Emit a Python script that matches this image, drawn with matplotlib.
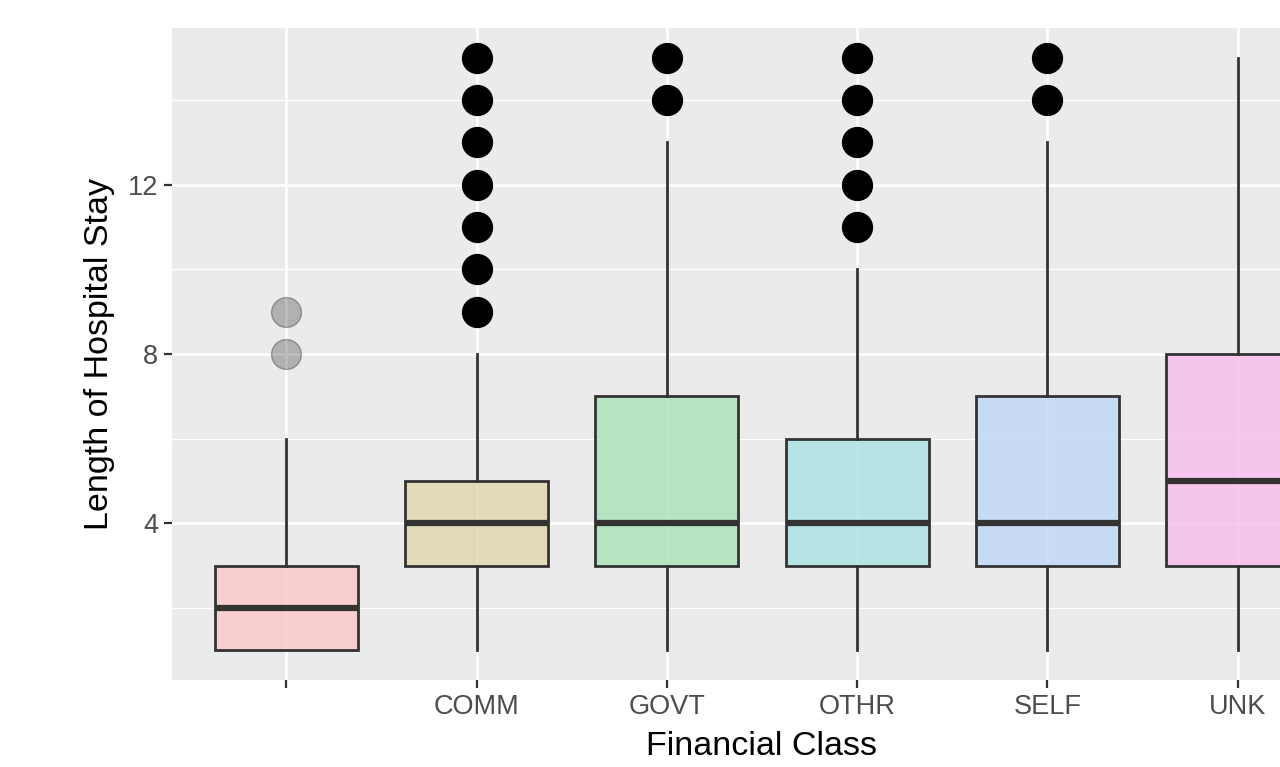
import matplotlib
matplotlib.use("Agg")
import matplotlib.pyplot as plt

# data
categories = ["", "COMM", "GOVT", "OTHR", "SELF", "UNK"]
whisker_lo = [1, 1, 1, 1, 1, 1]
q1 = [1, 3, 3, 3, 3, 3]
medians = [2, 4, 4, 4, 4, 5]
q3 = [3, 5, 7, 6, 7, 8]
whisker_hi = [6, 8, 13, 10, 13, 15]
outliers = [
    [8, 9],
    [9, 10, 11, 12, 13, 14, 15],
    [14, 15],
    [11, 12, 13, 14, 15],
    [14, 15],
    [],
]

# fills are slightly translucent so the grid shows through, like the original
fills = ["#FCC8C7", "#E1D6AB", "#A9E1B8", "#A9E1E2", "#BFD7F8", "#F8BCEB"]
flier_styles = [
    dict(markerfacecolor=(0, 0, 0, 0.25), markeredgecolor=(0, 0, 0, 0.3)),
] + [dict(markerfacecolor="black", markeredgecolor="black")] * 5

plt.rcParams["font.family"] = ["Liberation Sans", "DejaVu Sans"]

fig = plt.figure(figsize=(12.8, 7.67), dpi=100)
# panel runs past the right edge (the original is cropped there)
ax = fig.add_axes([172 / 1280, 87 / 767, 1180 / 1280, 652 / 767])
ax.set_facecolor("#EBEBEB")
for s in ax.spines.values():
    s.set_visible(False)

stats = []
for i in range(len(categories)):
    stats.append(dict(label=categories[i], whislo=whisker_lo[i], q1=q1[i],
                      med=medians[i], q3=q3[i], whishi=whisker_hi[i],
                      fliers=outliers[i]))

pos = list(range(len(categories)))
bp = ax.bxp(stats, positions=pos, widths=0.75, patch_artist=True,
            showcaps=False, manage_ticks=False,
            boxprops=dict(edgecolor="#333333", linewidth=2.0),
            whiskerprops=dict(color="#333333", linewidth=2.0),
            medianprops=dict(color="#333333", linewidth=4.5, solid_capstyle="butt"),
            flierprops=dict(marker="o", markersize=21.5, linestyle="none"))

for patch, c in zip(bp["boxes"], fills):
    patch.set_facecolor(matplotlib.colors.to_rgba(c, 0.8))
    patch.set_edgecolor("#333333")
    patch.set_zorder(2)
for fl, st in zip(bp["fliers"], flier_styles):
    fl.set_markerfacecolor(st["markerfacecolor"])
    fl.set_markeredgecolor(st["markeredgecolor"])
    fl.set_markeredgewidth(1)

ax.set_xlim(-0.6, 5.6)
ax.set_ylim(0.3, 15.7)
ax.set_xticks(pos)
ax.set_xticklabels(categories)
ax.set_yticks([4, 8, 12])
ax.set_yticks([2, 6, 10, 14], minor=True)

ax.set_axisbelow(True)
ax.grid(True, which="major", color="white", linewidth=1.8)
ax.grid(True, which="minor", axis="y", color="white", linewidth=0.9)
ax.tick_params(axis="both", which="major", length=6, width=1.6, color="#333333",
               labelsize=19.5, labelcolor="#4D4D4D", pad=4)
ax.tick_params(axis="both", which="minor", length=0)

ax.set_xlabel("Financial Class", fontsize=24.5, color="black", labelpad=8)
ax.set_ylabel("Length of Hospital Stay", fontsize=24.5, color="black", labelpad=9)

fig.savefig("out.png", dpi=100)
